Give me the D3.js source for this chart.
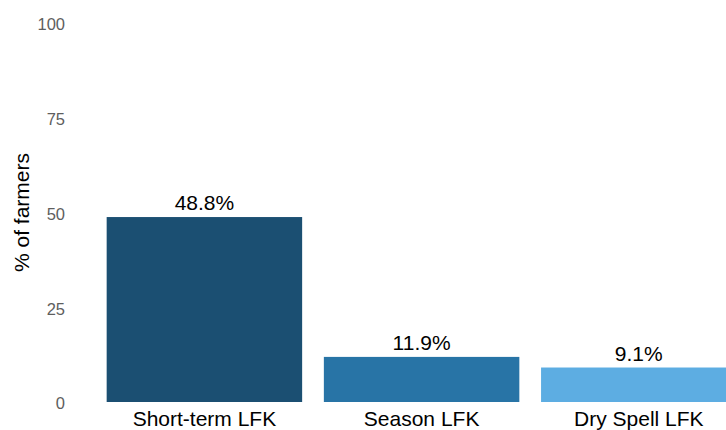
<!DOCTYPE html>
<html>
<head>
<meta charset="utf-8">
<script src="https://cdn.jsdelivr.net/npm/d3@7"></script>
<style>
  body { margin: 0; background: #fff; }
  svg { display: block; font-family: "Liberation Sans", Arial, sans-serif; }
</style>
</head>
<body>
<svg width="726" height="430"></svg>
<script>
const categories = ['Short-term LFK', 'Season LFK', 'Dry Spell LFK'];
const values = [48.8, 11.9, 9.1];
const barColors = ['#1b4f72', '#2874a6', '#5dade2'];
const yTicks = [0, 25, 50, 75, 100];

var svg = d3.select('svg');

var x = d3.scaleBand()
  .domain(categories)
  .range([95.8, 747.4])
  .paddingInner(0.1)
  .paddingOuter(0.05);

var y = d3.scaleLinear().domain([0, 100]).range([402, 23]);

// y axis labels only, no lines
var yAxis = svg.append('g')
  .attr('transform', 'translate(73,0)')
  .call(d3.axisLeft(y).tickValues(yTicks).tickSize(0).tickPadding(8));
yAxis.select('.domain').remove();
yAxis.selectAll('text')
  .attr('font-size', '16.5px')
  .attr('font-family', '"Liberation Sans", Arial, sans-serif')
  .attr('transform', 'translate(0,1.5)')
  .attr('fill', '#5e5e5e');

svg.append('text')
  .attr('transform', 'translate(29,' + y(50) + ') rotate(-90)')
  .attr('text-anchor', 'middle')
  .attr('font-size', '21px')
  .attr('fill', '#000')
  .text('% of farmers');

var bars = svg.append('g');
bars.selectAll('rect')
  .data(values)
  .enter()
  .append('rect')
  .attr('x', (d, i) => x(categories[i]))
  .attr('y', d => y(d))
  .attr('width', x.bandwidth())
  .attr('height', d => y(0) - y(d))
  .attr('fill', (d, i) => barColors[i]);

bars.selectAll('text.val')
  .data(values)
  .enter()
  .append('text')
  .attr('class', 'val')
  .attr('x', (d, i) => x(categories[i]) + x.bandwidth() / 2)
  .attr('y', d => y(d) - 7)
  .attr('text-anchor', 'middle')
  .attr('font-size', '21px')
  .attr('fill', '#000')
  .text(d => d.toFixed(1) + '%');

// category labels
var xAxis = svg.append('g')
  .attr('transform', 'translate(0,' + y(0) + ')')
  .call(d3.axisBottom(x).tickSize(0).tickPadding(9));
xAxis.select('.domain').remove();
xAxis.selectAll('text')
  .attr('font-size', '21px')
  .attr('font-family', '"Liberation Sans", Arial, sans-serif')
  .attr('fill', '#000');
</script>
</body>
</html>
